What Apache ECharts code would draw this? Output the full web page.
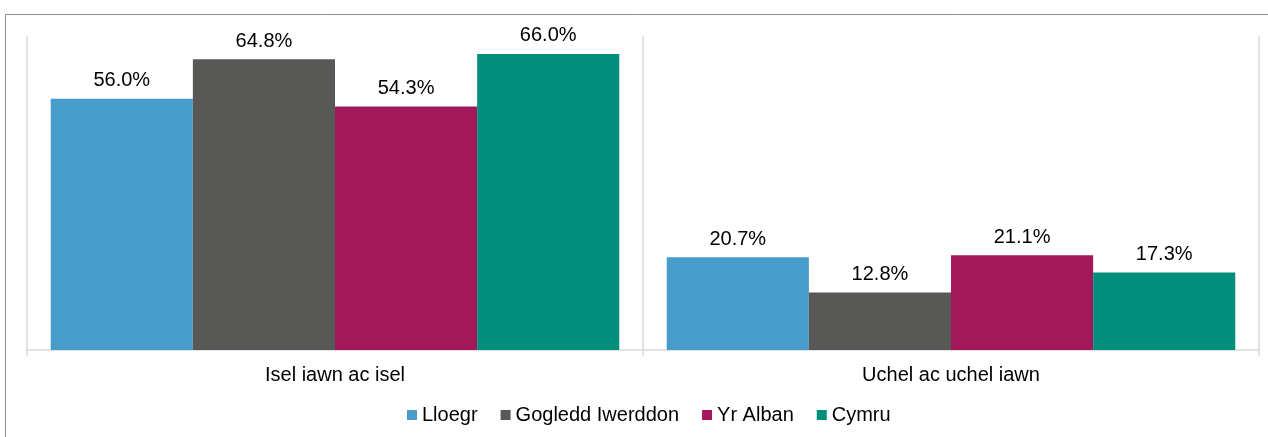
<!DOCTYPE html>
<html>
<head>
<meta charset="utf-8">
<script src="https://cdn.jsdelivr.net/npm/echarts@6/dist/echarts.min.js"></script>
<style>
  html, body { margin: 0; padding: 0; background: #fff; }
  #chart { width: 1268px; height: 437px; }
</style>
</head>
<body>
<div id="chart"></div>
<script>
// categories and series
var categories = ['Isel iawn ac isel', 'Uchel ac uchel iawn'];
var lloegr = [56.0, 20.7];
var gogleddIwerddon = [64.8, 12.8];
var yrAlban = [54.3, 21.1];
var cymru = [66.0, 17.3];

var seriesNames = ['Lloegr', 'Gogledd Iwerddon', 'Yr Alban', 'Cymru'];
var seriesData = [lloegr, gogleddIwerddon, yrAlban, cymru];
var colors = ['#489CCB', '#585857', '#A2185A', '#008F7C'];
var font = 'Liberation Sans, Arial, sans-serif';

var chart = echarts.init(document.getElementById('chart'));

var series = [];
for (var i = 0; i < seriesNames.length; i++) {
  series.push({
    name: seriesNames[i],
    type: 'bar',
    data: seriesData[i],
    barGap: '0%',
    barCategoryGap: '7.7%',
    itemStyle: { color: colors[i] },
    label: {
      show: true,
      position: 'top',
      distance: 8,
      color: '#000',
      fontFamily: font,
      fontSize: 20,
      formatter: function (p) { return p.value.toFixed(1) + '%'; }
    }
  });
}

var option = {
  backgroundColor: '#fff',
  animation: false,
  color: colors,
  graphic: [{
    type: 'rect',
    shape: { x: 5.5, y: 14.5, width: 1300, height: 500 },
    style: { fill: 'none', stroke: '#8c8c8c', lineWidth: 1 },
    silent: true
  }],
  legend: {
    top: 400,
    left: 402,
    itemWidth: 10,
    itemHeight: 10,
    itemGap: 23,
    icon: 'rect',
    textStyle: { fontFamily: font, fontSize: 20, color: '#000' },
    data: seriesNames
  },
  grid: { left: 27, right: 9, top: 36, bottom: 87, containLabel: false },
  xAxis: {
    type: 'category',
    data: categories,
    axisLine: { show: true, lineStyle: { color: '#d9d9d9', width: 1.5 } },
    axisTick: { show: true, length: 6, lineStyle: { color: '#d9d9d9', width: 1.5 } },
    splitLine: { show: true, interval: 0, lineStyle: { color: '#d9d9d9', width: 1.5 } },
    axisLabel: { color: '#000', fontFamily: font, fontSize: 20, margin: 15 }
  },
  yAxis: {
    type: 'value',
    min: 0,
    max: 70,
    show: false,
    splitLine: { show: false }
  },
  series: series
};

chart.setOption(option);
</script>
</body>
</html>
